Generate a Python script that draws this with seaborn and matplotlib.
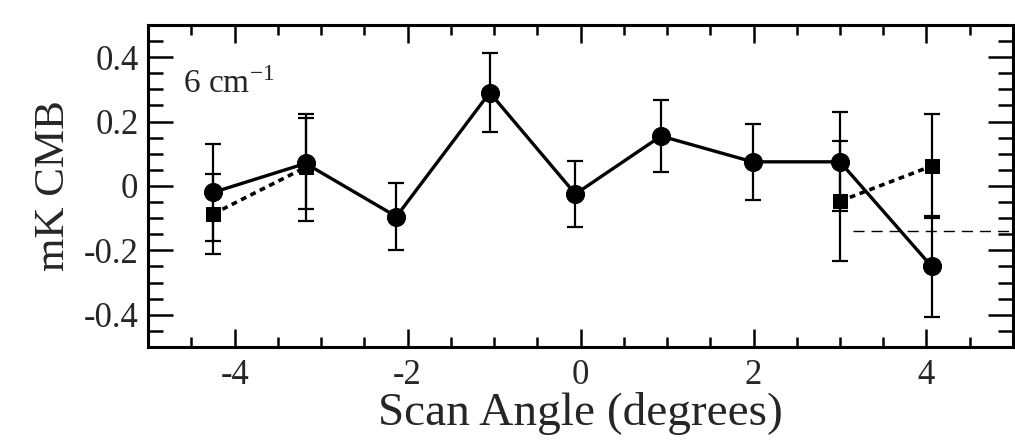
import numpy as np
import pandas as pd
import seaborn as sns
import matplotlib.pyplot as plt
from matplotlib.ticker import MultipleLocator

# scan angle (degrees) and signal (mK CMB)
angle = [-4.25, -3.18, -2.13, -1.05, -0.06, 0.93, 1.99, 3.0, 4.06]
cmb = [-0.02, 0.07, -0.095, 0.29, -0.025, 0.155, 0.075, 0.075, -0.25]
cmb_err = [0.15, 0.142, 0.103, 0.123, 0.103, 0.113, 0.117, 0.154, 0.157]

# square points (joined pairwise with dotted lines)
sq_angle = [-4.25, -3.18, 3.0, 4.06]
sq_cmb = [-0.087, 0.058, -0.047, 0.062]
sq_err = [0.125, 0.166, 0.187, 0.162]
sq_segment = ['left', 'left', 'right', 'right']

# thin dashed level on the right
level_y = -0.14
level_x = [3.15, 4.95]

sns.set_theme(style='ticks')
plt.rcParams['font.family'] = ['Liberation Serif', 'DejaVu Serif']
plt.rcParams['axes.unicode_minus'] = False
plt.rcParams['mathtext.fontset'] = 'stix'

df = pd.DataFrame({'angle': angle, 'cmb': cmb})
df_sq = pd.DataFrame({'angle': sq_angle, 'cmb': sq_cmb, 'seg': sq_segment})

fig = plt.figure(figsize=(10.15, 4.46), dpi=100)
ax = fig.add_axes([0.146, 0.222, 0.852, 0.722])

# error bars
ax.errorbar(angle, cmb, yerr=cmb_err, fmt='none', ecolor='black',
            elinewidth=1.6, capsize=6, capthick=1.6, zorder=2)
ax.errorbar(sq_angle, sq_cmb, yerr=sq_err, fmt='none', ecolor='black',
            elinewidth=1.6, capsize=6, capthick=1.6, zorder=2)

# dotted square pairs
for seg in ['left', 'right']:
    sub = df_sq[df_sq['seg'] == seg]
    sns.lineplot(data=sub, x='angle', y='cmb', ax=ax, color='black',
                 linewidth=2.6, linestyle=(0, (1.6, 1.3)), marker='s',
                 markersize=9.5, markeredgecolor='black', sort=False,
                 estimator=None, zorder=3)

# solid circle series
sns.lineplot(data=df, x='angle', y='cmb', ax=ax, color='black', linewidth=2.4,
             marker='o', markersize=13, markeredgecolor='black', sort=False,
             estimator=None, zorder=4)

ax.hlines(level_y, level_x[0], level_x[1], colors='black', linewidth=1.0,
          linestyles=(0, (8, 5)), zorder=1)

ax.text(-4.6, 0.29, r'6 cm$^{\mathregular{-1}}$', fontsize=24)

ax.set_xlim(-5, 5)
ax.set_ylim(-0.5, 0.5)
ax.xaxis.set_minor_locator(MultipleLocator(0.5))
ax.yaxis.set_minor_locator(MultipleLocator(0.05))
ax.set_xticks([-4, -2, 0, 2, 4])
ax.set_xticklabels(['-4', '-2', '0', '2', '4'])
ax.set_yticks([-0.4, -0.2, 0, 0.2, 0.4])
ax.set_yticklabels(['-0.4', '-0.2', '0', '0.2', '0.4'])

ax.tick_params(axis='both', which='both', direction='in', top=True, right=True,
               color='black', width=1.8)
ax.tick_params(axis='x', which='major', length=13, labelsize=25, pad=9)
ax.tick_params(axis='x', which='minor', length=7)
ax.tick_params(axis='y', which='major', length=18, labelsize=25, pad=7)
ax.tick_params(axis='y', which='minor', length=11)
for sp in ax.spines.values():
    sp.set_linewidth(2.2)
    sp.set_color('black')

ax.set_xlabel('Scan Angle (degrees)', fontsize=34, labelpad=0)
ax.set_ylabel('mK CMB', fontsize=31, labelpad=8)

fig.savefig('out.png', dpi=100, facecolor='white')
